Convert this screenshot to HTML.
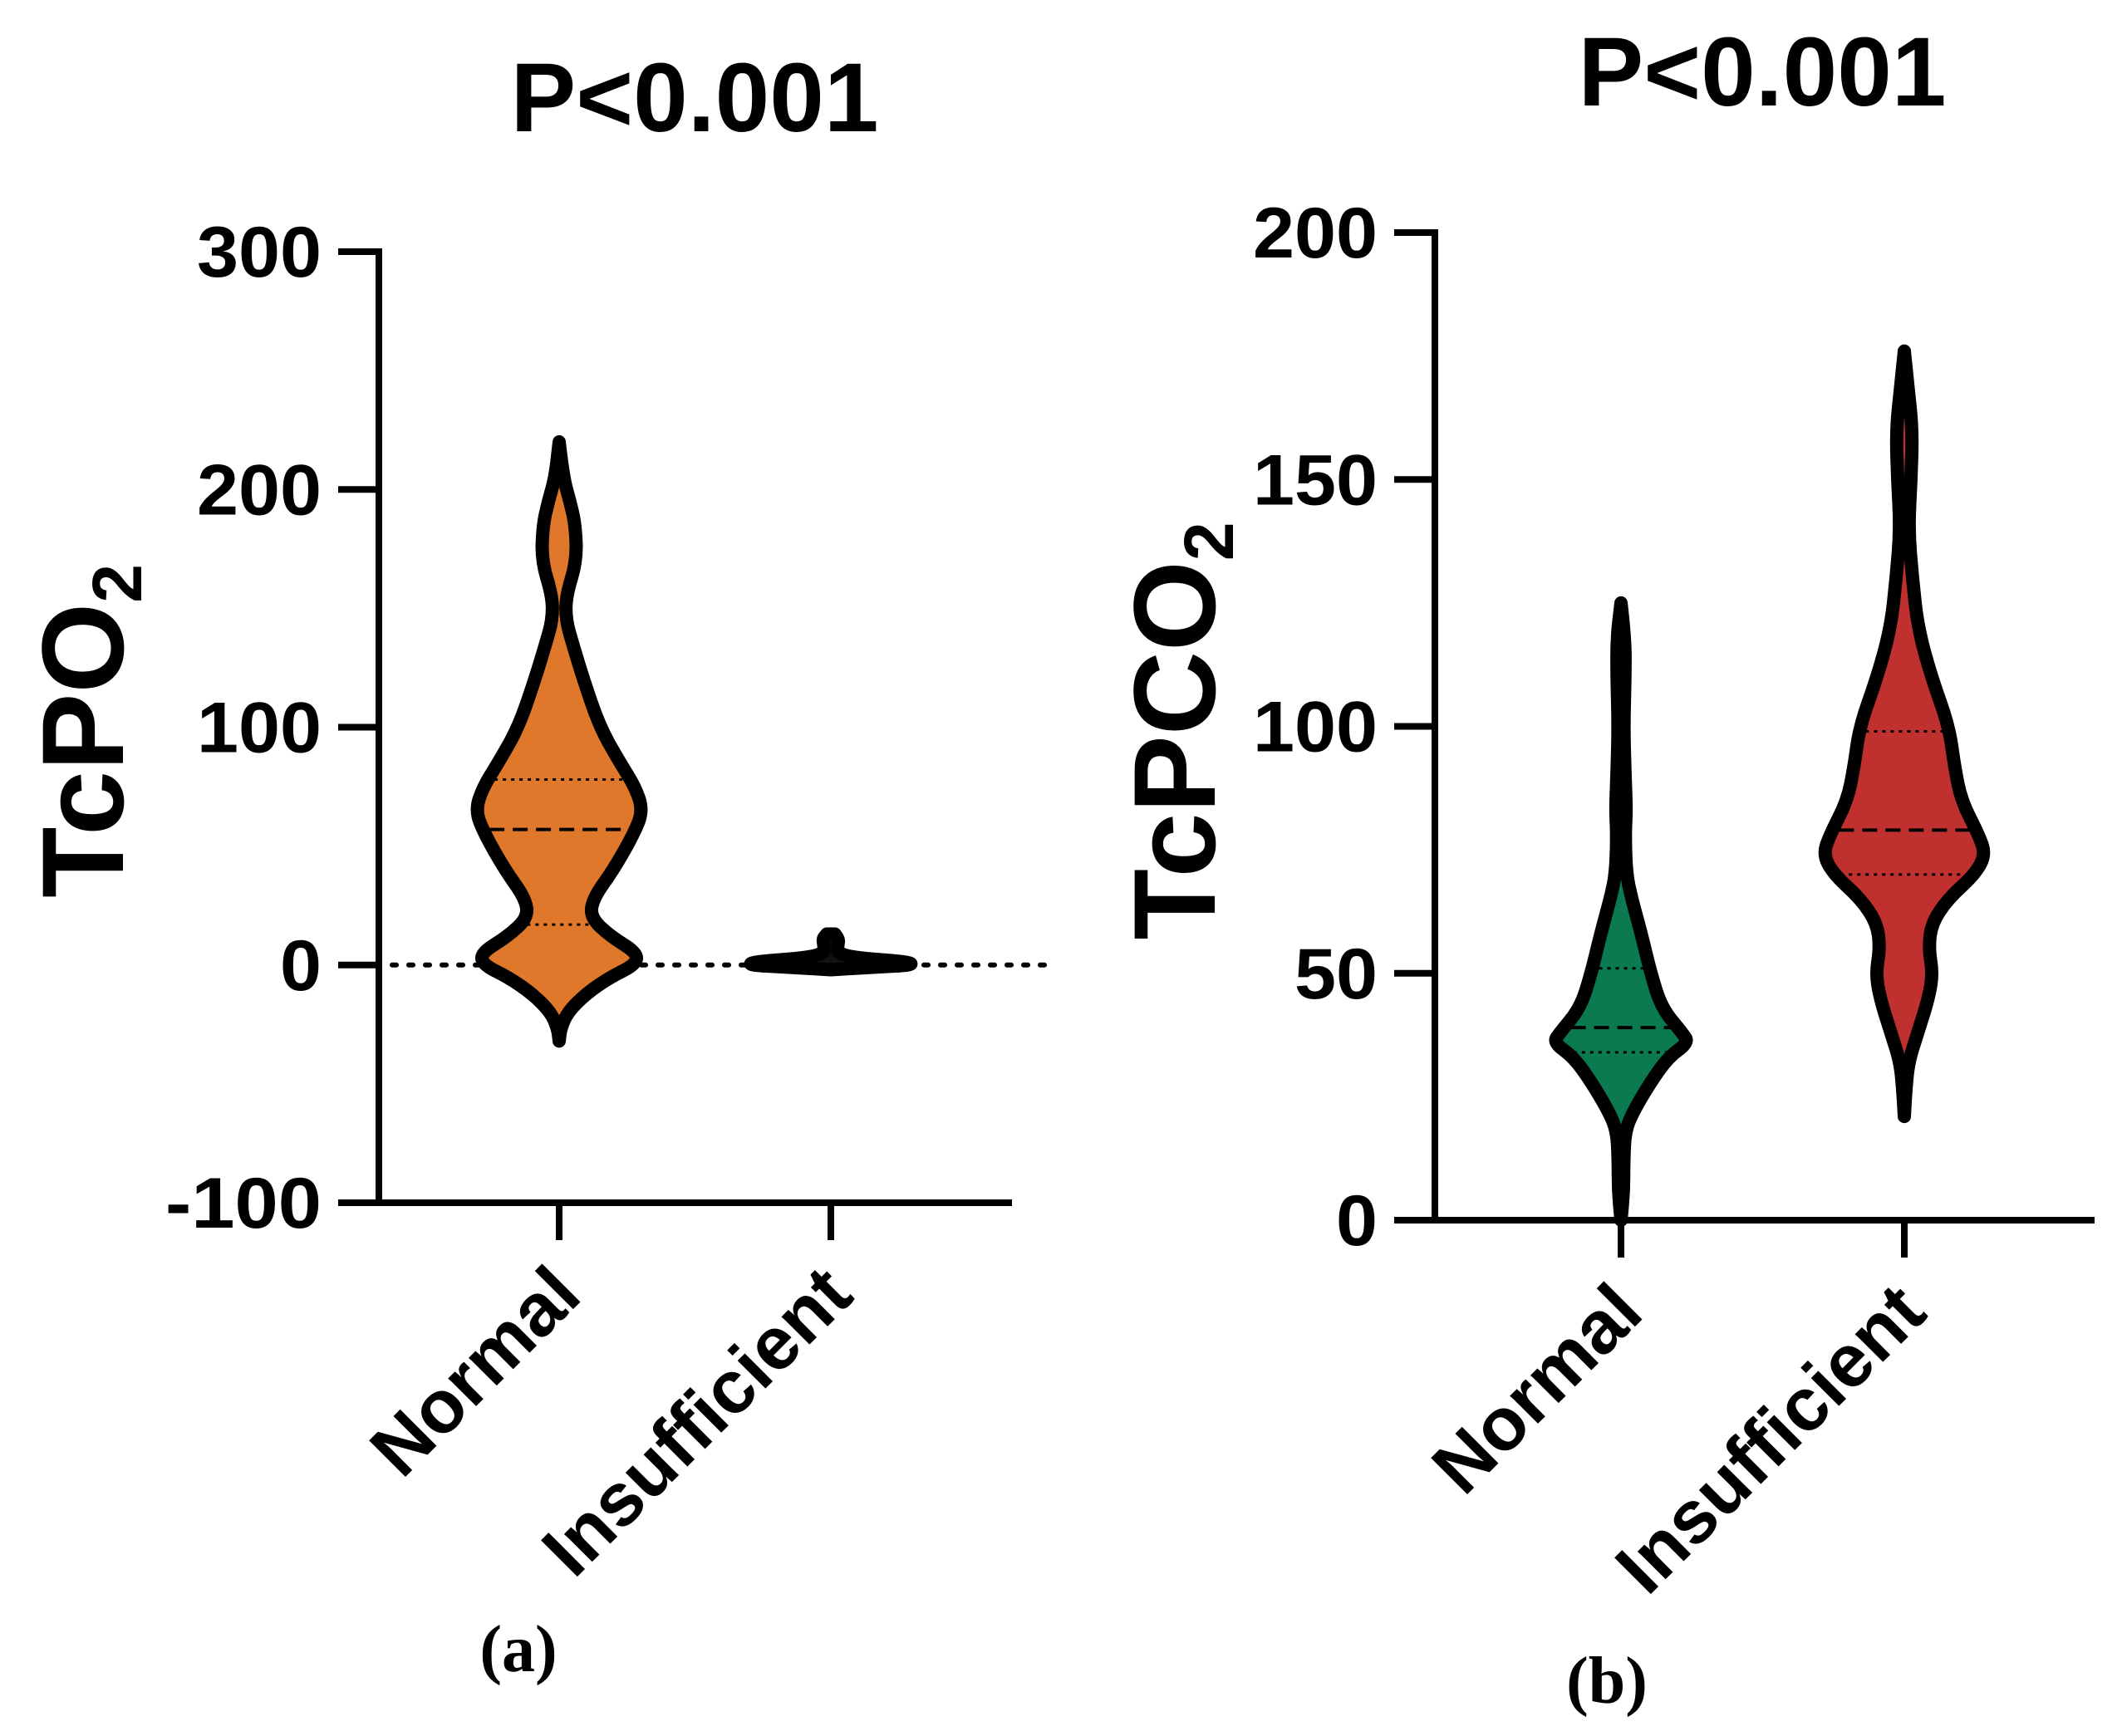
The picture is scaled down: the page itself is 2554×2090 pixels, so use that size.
<!DOCTYPE html>
<html><head><meta charset="utf-8"><style>
html,body{margin:0;padding:0;background:#fff;}
svg{display:block;}
text{font-family:"Liberation Sans",sans-serif;font-weight:bold;fill:#000;}
.cap{font-family:"Liberation Serif",serif;font-weight:bold;}
</style></head><body>
<svg id="fig" width="2554" height="2090" viewBox="0 0 2554 2090"></svg>
<script>
// ---- data ----
const categories = ["Normal", "Insufficient"];
const ticksA = [300, 200, 100, 0, -100];
const ticksB = [200, 150, 100, 50, 0];
// violin profiles: values and relative densities
const aNormalVals = [220,205,195,185,170,155,145,135,120,100,85,75,65,55,40,28,20,12,5,0,-5,-12,-20,-27,-32];
const aNormalDens = [0,3,8,12,13,5,5,10,18,30,45,56,62,55,40,25,23,38,58,56,38,20,6,1,0];
const aNormalQ = [17, 57, 78];
const aInsVals = [13,11,8,5,3,1.5,0,-1,-2];
const aInsDens = [3,6,5,5,18,55,62,30,0];
const aInsQ = [0.5, 1, 2];
const bNormalVals = [125,118,110,100,90,83,78,70,65,58,50,43,38,36,33,28,22,18,12,6,0];
const bNormalDens = [0,3,3,2,3,4,3,4,8,15,22,30,45,50,35,22,9,3,2,2,0];
const bNormalQ = [34, 39, 51];
const bInsVals = [176,168,160,150,140,130,120,110,100,92,85,78,74,70,65,60,55,50,45,38,32,26,21];
const bInsDens = [0,3,6,5,3,6,10,20,33,37,42,55,60,52,32,20,18,21,18,10,3,1,0];
const bInsQ = [70, 79, 99];

const NS = "http://www.w3.org/2000/svg";
const svg = document.getElementById('fig');
function mk(tag, attrs, parent){
  const e = document.createElementNS(NS, tag);
  for (const k in attrs) e.setAttribute(k, attrs[k]);
  (parent||svg).appendChild(e);
  return e;
}
function chart(cfg){
  const g = mk('g', {});
  
  
  const y = v => cfg.y0 + (v - cfg.vmin) / (cfg.vmax - cfg.vmin) * (cfg.y1 - cfg.y0);
  const ya = mk('line', {x1:cfg.ax, y1:y(cfg.vmax)-4, x2:cfg.ax, y2:y(cfg.vmin)+4, stroke:'#000','stroke-width':8}, g);
  
  
  const xa = mk('line', {x1:cfg.xl, y1:y(cfg.vmin), x2:cfg.xr, y2:y(cfg.vmin), stroke:'#000','stroke-width':8}, g);
  
  
  cfg.ticks.forEach(t => {
    const tl = mk('line', {x1:cfg.xl, y1:y(t), x2:cfg.ax, y2:y(t), stroke:'#000','stroke-width':8}, g);
    
    
    const s = String(t);
    const tx = mk('text', {x:cfg.xl-20, y:y(t)+30, 'text-anchor':'end','font-size':86,
      textLength: s.length*50 + (s[0]=='-'?-12:0), lengthAdjust:'spacingAndGlyphs'}, g);
    tx.textContent = t;
    
    
  });
  if (cfg.zeroLine){
    const zl = mk('line', {x1:cfg.ax+16, y1:y(0), x2:cfg.zeroEnd, y2:y(0), stroke:'#000','stroke-width':6,'stroke-dasharray':'5 15','stroke-linecap':'round'}, g);
    
    
  }
  cfg.violins.forEach((v, i) => {
    const cx = cfg.cx[i];
    const hw = d => d * cfg.wscale;
    let right = v.vals.map((val, k) => [cx + hw(v.dens[k]), y(val)]);
    let left = v.vals.map((val, k) => [cx - hw(v.dens[k]), y(val)]).reverse();
    const pts = right.concat(left);
    let d = 'M' + pts[0][0] + ' ' + pts[0][1];
    for (let k = 1; k < pts.length - 1; k++){
      const mx = (pts[k][0] + pts[k+1][0]) / 2, my = (pts[k][1] + pts[k+1][1]) / 2;
      d += ' Q' + pts[k][0] + ' ' + pts[k][1] + ' ' + mx + ' ' + my;
    }
    d += ' L' + pts[pts.length-1][0] + ' ' + pts[pts.length-1][1] + ' Z';
    const p = mk('path', {d:d, fill:v.color, stroke:'#000','stroke-width':cfg.sw,'stroke-linejoin':'round','stroke-linecap':'round'}, g);
    
    
    v.q.forEach((q, qi) => {
      let w = 0;
      for (let k = 0; k < v.vals.length - 1; k++){
        const a = v.vals[k], b = v.vals[k+1];
        if ((q <= a && q >= b)){ const t = (a - q) / (a - b || 1); w = v.dens[k] + t * (v.dens[k+1] - v.dens[k]); break; }
      }
      const L = hw(w) - cfg.sw / 2;
      if (L <= 0) return;
      const ql = mk('line', {x1:cx-L, y1:y(q), x2:cx+L, y2:y(q), stroke:'#000','stroke-width': qi==1?4:3,
        'stroke-dasharray': qi==1 ? '18 10' : '4 6'}, g);
      
      
    });
    const xt = mk('line', {x1:cx, y1:y(cfg.vmin), x2:cx, y2:y(cfg.vmin)+45, stroke:'#000','stroke-width':8}, g);
    
    
    const lx = cx + 30, ly = y(cfg.vmin) + 115;
    const lab = mk('text', {x:lx, y:ly, 'text-anchor':'end','font-size':90, transform:'rotate(-45 '+lx+' '+ly+')'}, g);
    lab.textContent = categories[i];
    
    
  });
  const tt = mk('text', {x:cfg.titleX, y:cfg.titleY, 'text-anchor':'middle','font-size':118}, g);
  tt.textContent = 'P<0.001';
  
  
  const yt = mk('text', {x:0, y:0, 'text-anchor':'middle','font-size':140, transform:'translate('+cfg.ytX+' '+cfg.ytY+') rotate(-90)'}, g);
  
  
  yt.textContent = cfg.ytMain;
  const sub = mk('tspan', {'font-size':84, dy:22}, yt);
  sub.textContent = '2';
  const cp = mk('text', {x:cfg.capX, y:cfg.capY, 'text-anchor':'middle','font-size':80, class:'cap'}, g);
  cp.textContent = cfg.cap;
  
  
}
chart({name:'chart-a-tcpo2', ax:456, xl:407, xr:1218, y0:1448, y1:303, vmin:-100, vmax:300, ticks:ticksA,
  cx:[673,1000], wscale:1.63, sw:16, zeroLine:true, zeroEnd:1262,
  violins:[{vals:aNormalVals,dens:aNormalDens,q:aNormalQ,color:'#df782b'},
           {vals:aInsVals,dens:aInsDens,q:[],color:'#111'}],
  titleX:836, titleY:158, ytX:148, ytY:880, ytMain:'TcPO', capX:624, capY:2012, cap:'(a)'});
chart({name:'chart-b-tcpco2', ax:1727, xl:1678, xr:2521, y0:1469, y1:280, vmin:0, vmax:200, ticks:ticksB,
  cx:[1951,2292], wscale:1.63, sw:16, zeroLine:false,
  violins:[{vals:bNormalVals,dens:bNormalDens,q:bNormalQ,color:'#0b7a50'},
           {vals:bInsVals,dens:bInsDens,q:bInsQ,color:'#c0302e'}],
  titleX:2121, titleY:127, ytX:1462, ytY:880, ytMain:'TcPCO', capX:1934, capY:2050, cap:'(b)'});
</script>
</body></html>
